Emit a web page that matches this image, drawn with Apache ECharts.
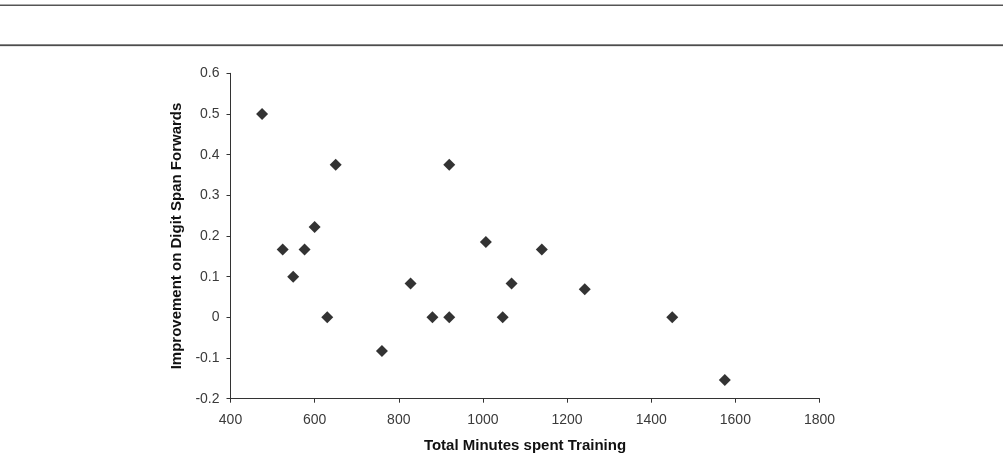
<!DOCTYPE html>
<html><head><meta charset="utf-8">
<script src="https://cdn.jsdelivr.net/npm/echarts@6/dist/echarts.min.js"></script>
<style>html,body{margin:0;padding:0;background:#fff}#c{width:1003px;height:466px}</style>
</head><body><div id="c"></div>
<script>
const minutes = [475, 524, 549, 576, 600, 630, 650, 760, 828, 880, 920, 920, 1007, 1047, 1068, 1140, 1242, 1450, 1575];
const improvement = [0.5, 0.167, 0.1, 0.167, 0.222, 0, 0.375, -0.083, 0.083, 0, 0.375, 0, 0.185, 0, 0.083, 0.167, 0.069, 0, -0.154];
const xTitle = 'Total Minutes spent Training';
const yTitle = 'Improvement on Digit Span Forwards';

const chart = echarts.init(document.getElementById('c'), null, {renderer: 'canvas'});
const font = 'Liberation Sans, Arial, sans-serif';
chart.setOption({
  animation: false,
  backgroundColor: '#fff',
  grid: {left: 230.5, right: 183.5, top: 73.3, bottom: 67.3},
  graphic: [
    {type: 'rect', shape: {x: 0, y: 4, width: 1003, height: 1}, style: {fill: '#aaa'}},
    {type: 'rect', shape: {x: 0, y: 5, width: 1003, height: 1}, style: {fill: '#555'}},
    {type: 'rect', shape: {x: 0, y: 44.5, width: 1003, height: 1.2}, style: {fill: '#111'}},
    {type: 'rect', shape: {x: 0, y: 46, width: 1003, height: 1}, style: {fill: '#e6e6e6'}}
  ],
  xAxis: {
    type: 'value', min: 400, max: 1800, interval: 200,
    name: xTitle, nameLocation: 'middle', nameGap: 40,
    nameTextStyle: {fontFamily: font, fontSize: 15, fontWeight: 'bold', color: '#111'},
    axisLine: {onZero: false, lineStyle: {color: '#333', width: 1}},
    axisTick: {show: true, inside: false, length: 4, lineStyle: {color: '#333'}},
    axisLabel: {fontFamily: font, fontSize: 14, color: '#3a3a3a', margin: 14,
      formatter: v => String(v)},
    splitLine: {show: false}
  },
  yAxis: {
    type: 'value', min: -0.2, max: 0.6, interval: 0.1,
    name: yTitle, nameLocation: 'middle', nameGap: 45, nameRotate: 90,
    nameTextStyle: {fontFamily: font, fontSize: 15, fontWeight: 'bold', color: '#111'},
    axisLine: {show: true, onZero: false, lineStyle: {color: '#333', width: 1}},
    axisTick: {show: true, inside: false, length: 4, lineStyle: {color: '#333'}},
    axisLabel: {fontFamily: font, fontSize: 14, color: '#3a3a3a', margin: 11,
      formatter: v => String(Math.round(v * 10) / 10)},
    splitLine: {show: false}
  },
  series: [{
    type: 'scatter',
    symbol: 'diamond',
    symbolSize: 12,
    itemStyle: {color: '#000'},
    data: minutes.map((m, i) => [m, improvement[i]])
  }]
});
</script>
</body></html>
